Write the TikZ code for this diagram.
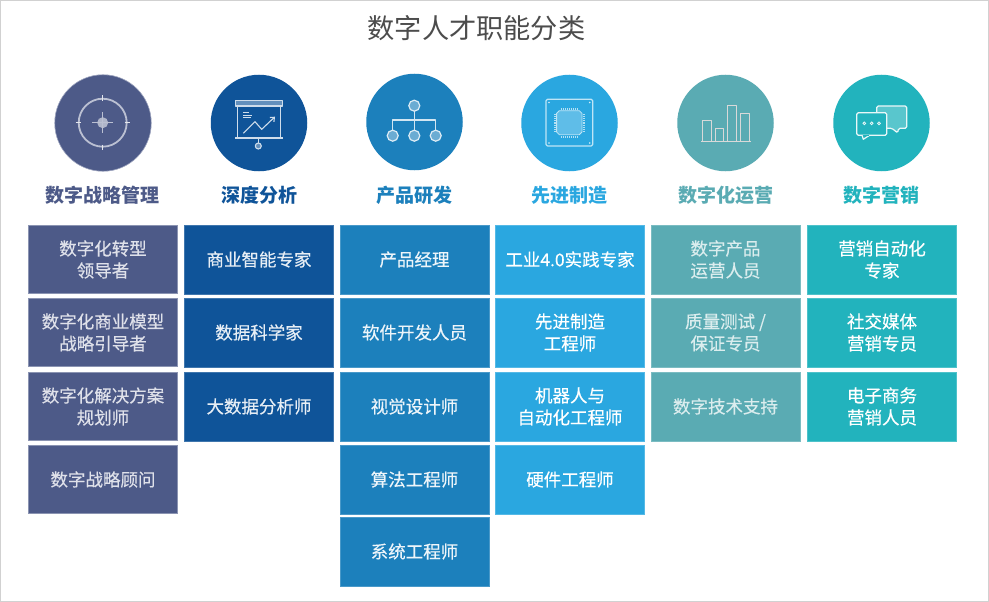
\documentclass[tikz,border=0pt]{standalone}
\usepackage{fontspec}
\setmainfont{Noto Sans CJK SC}
\newfontfamily\boxfont[FakeBold=0.35]{Noto Sans CJK SC}
\usetikzlibrary{arrows.meta}
\definecolor{cA}{HTML}{4D5A88}
\definecolor{cB}{HTML}{0F5499}
\definecolor{cC}{HTML}{1C80BC}
\definecolor{cD}{HTML}{2AA7E0}
\definecolor{cE}{HTML}{5AABB3}
\definecolor{cF}{HTML}{22B3BD}
\tikzset{
  box/.style={minimum width=149pt,minimum height=68.5pt,inner sep=0pt,outer sep=0pt,align=center,
    font=\boxfont\fontsize{17.5}{22}\selectfont,text=white},
  boxA/.style={box,fill=cA,draw=cA!65!white,line width=0.6pt,text=white!82!cA},
  boxB/.style={box,fill=cB,draw=cB!80!white,line width=0.4pt,text=white!90!cB},
  boxC/.style={box,fill=cC,draw=cC!80!white,line width=0.4pt,text=white!92!cC},
  boxD/.style={box,fill=cD,draw=cD!80!white,line width=0.4pt},
  boxE/.style={box,fill=cE,draw=cE!80!white,line width=0.4pt,text=white!78!cE},
  boxF/.style={box,fill=cF,draw=cF!80!white,line width=0.4pt},
  disc/.style={circle,minimum size=96.5pt,inner sep=0pt,outer sep=0pt},
  head/.style={font=\fontsize{19}{22}\bfseries\selectfont,inner sep=0pt,anchor=base},
  icon/.style={draw=white!85!black,line width=1.2pt,line join=round},
  iconB/.style={draw=white!80!cB,line width=1.1pt,line join=round},
  frame/.style={draw=black!18,line width=1.2pt}
}
\begin{document}
\begin{tikzpicture}[x=1pt,y=-1pt]
\useasboundingbox (0,0) rectangle (989,602);
\fill[white] (0,0) rectangle (989,602);
\draw[frame] (0,0) rectangle (989,602);
\node[inner sep=0pt,text=black!70,font=\fontsize{27.2}{30}\selectfont] (title) at (476.5,28) {数字人才职能分类};
% discs
\node[disc,fill=cA,draw=cA!55!white,line width=0.6pt] (d1) at (103,123) {};
\node[disc,fill=cB] (d2) at (259,123) {};
\node[disc,fill=cC] (d3) at (414.5,122) {};
\node[disc,fill=cD] (d4) at (569.5,123) {};
\node[disc,fill=cE] (d5) at (725.5,123) {};
\node[disc,fill=cF] (d6) at (881.5,123) {};
% headings
\node[head,text=cA] (h1) at (102.5,202) {数字战略管理};
\node[head,text=cB] (h2) at (259,202) {深度分析};
\node[head,text=cC] (h3) at (414.5,202) {产品研发};
\node[head,text=cD] (h4) at (569.5,202) {先进制造};
\node[head,text=cE] (h5) at (725.5,202) {数字化运营};
\node[head,text=cF] (h6) at (881.5,202) {数字营销};
% column 1
\node[boxA] (a1) at (103,259.5) {数字化转型\\领导者};
\node[boxA] (a2) at (103,332.5) {数字化商业模型\\战略引导者};
\node[boxA] (a3) at (103,406.5) {数字化解决方案\\规划师};
\node[boxA] (a4) at (103,479.5) {数字战略顾问};
% column 2
\node[boxB] (b1) at (259,259.5) {商业智能专家};
\node[boxB] (b2) at (259,332.5) {数据科学家};
\node[boxB] (b3) at (259,406.5) {大数据分析师};
% column 3
\node[boxC] (c1) at (414.5,259.5) {产品经理};
\node[boxC] (c2) at (414.5,332.5) {软件开发人员};
\node[boxC] (c3) at (414.5,406.5) {视觉设计师};
\node[boxC] (c4) at (414.5,479.5) {算法工程师};
\node[boxC] (c5) at (414.5,551.5) {系统工程师};
% column 4
\node[boxD] (e1) at (570,259.5) {工业4.0实践专家};
\node[boxD] (e2) at (570,332.5) {先进制造\\工程师};
\node[boxD] (e3) at (570,406.5) {机器人与\\自动化工程师};
\node[boxD] (e4) at (570,479.5) {硬件工程师};
% column 5
\node[boxE] (f1) at (725.5,259.5) {数字产品\\运营人员};
\node[boxE] (f2) at (725.5,332.5) {质量测试 /\\保证专员};
\node[boxE] (f3) at (725.5,406.5) {数字技术支持};
% column 6
\node[boxF] (g1) at (882,259.5) {营销自动化\\专家};
\node[boxF] (g2) at (882,332.5) {社交媒体\\营销专员};
\node[boxF] (g3) at (882,406.5) {电子商务\\营销人员};
% icon 1: target
\draw[icon,line width=1.8pt,draw=white!62!cA] (102.7,122.7) circle (24);
\fill[white!55!cA] (102.7,122.7) circle (5.5);
\draw[icon,line width=1.5pt,draw=white!62!cA] (92,122.7) -- (113.4,122.7) (102.7,112) -- (102.7,133.4);
\draw[icon,draw=white!85!cA,line width=1pt] (75.5,122.7) -- (81,122.7) (124.5,122.7) -- (130,122.7)
  (102.7,95.5) -- (102.7,101) (102.7,144.5) -- (102.7,150);
% icon 2: projector
\draw[iconB,fill=white!35!cB] (235.3,100.7) rectangle (282.7,106);
\draw[iconB] (237.5,106) -- (237.5,138) (280.5,106) -- (280.5,138) (235.3,138) -- (282.7,138);
\draw[iconB] (258.3,138) -- (258.3,143);
\draw[iconB,fill=white!35!cB] (258.3,146) circle (3);
\draw[iconB,-{Straight Barb[length=3.5pt,width=6pt]}] (243.3,133.3) -- (255,121.7) -- (261.7,129.3) -- (275,116.7);
\draw[iconB,line width=0.9pt] (243.3,112.5) -- (249,112.5) (243.3,115) -- (252,115) (243.3,117.5) -- (251,117.5);
% icon 3: org chart
\draw[icon,draw=white!80!cC] (414.3,111) -- (414.3,130) (392.7,130) -- (392.7,120) -- (435.7,120) -- (435.7,130);
\foreach \n/\px/\py in {ta/414.3/105.7,tb/392.7/135.7,tc/414.3/135.7,td/435.7/135.7}{
  \node[circle,minimum size=11pt,inner sep=0pt,fill=white!35!cC,draw=white!85!cC,line width=1.2pt] (\n) at (\px,\py) {};
}
% icon 4: chip
\draw[icon,draw=white!70!cD,rounded corners=1.5pt] (546,99.3) rectangle (592.7,146);
\fill[white!25!cD,draw=white!70!cD,line width=0.8pt] (559.3,110.7) -- (579.3,110.7) -- (582,113.4) -- (582,132) -- (579.3,134.7) -- (559.3,134.7) -- (556.6,132) -- (556.6,113.4) -- cycle;
\draw[draw=white!65!cD,line width=2pt,dash pattern=on 1pt off 1pt] (560.5,108.8) -- (578.5,108.8) (560.5,136.6) -- (578.5,136.6)
  (554.7,114.5) -- (554.7,131) (583.9,114.5) -- (583.9,131);
\fill[white!80!cD] (549,102.5) circle (0.9) (589.7,102.5) circle (0.9) (549,143) circle (0.9) (589.7,143) circle (0.9);
% icon 5: bars
\draw[icon,line width=1pt] (702.3,141) -- (702.3,121) -- (711.7,121) -- (711.7,141)
  (715,141) -- (715,128.3) -- (723.7,128.3) -- (723.7,141)
  (727.7,141) -- (727.7,105.3) -- (736.7,105.3) -- (736.7,141)
  (740,141) -- (740,113.3) -- (749,113.3) -- (749,141);
\draw[icon,line width=1pt] (701.3,141) -- (750.7,141);
% icon 6: chat bubbles
\draw[icon,draw=white!90!cF,fill=white!25!cF,rounded corners=1.5pt] (876.7,112.7) -- (876.7,106) -- (906.7,106) -- (906.7,128.3) -- (898.5,128.3) -- (897.7,133) -- (892,128.3) -- (886.7,128.3);
\draw[icon,draw=white!90!cF,fill=cF,rounded corners=1.5pt] (856.7,112.7) rectangle (886.7,135.3);
\draw[icon,draw=white!90!cF,fill=cF,line join=round] (862,135.3) -- (863.3,139.3) -- (869.5,135.3);
\draw[draw=cF,line width=1.4pt] (862.9,135.3) -- (868.5,135.3);
\draw[white!90!cF,line width=0.8pt] (864.3,123.3) circle (1.4) (871.7,123.3) circle (1.4) (879,123.3) circle (1.4);
\end{tikzpicture}
\end{document}
